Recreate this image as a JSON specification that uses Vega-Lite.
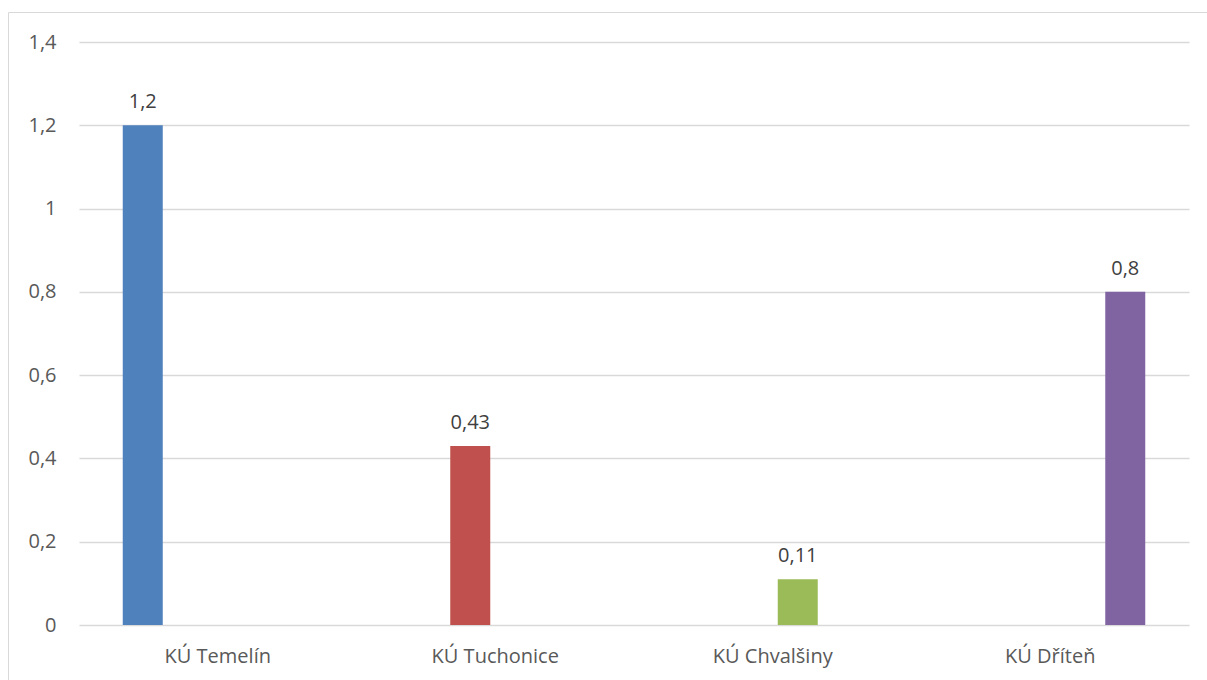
{
  "$schema": "https://vega.github.io/schema/vega-lite/v6.json",
  "autosize": {"type": "none"},
  "padding": {"left": 8, "top": 12, "right": 0, "bottom": 0},
  "width": 1202,
  "height": 670,
  "background": "#ffffff",
  "config": {
    "locale": {"number": {"decimal": ",", "thousands": " ", "grouping": [3], "currency": ["", " Kč"]}},
    "view": {"stroke": "#d9d9d9", "strokeWidth": 1},
    "font": "Open Sans"
  },
  "data": {
    "values": [
      {"area": "KÚ Temelín", "series": "s1", "value": 1.2},
      {"area": "KÚ Tuchonice", "series": "s2", "value": 0.43},
      {"area": "KÚ Chvalšiny", "series": "s3", "value": 0.11},
      {"area": "KÚ Dříteň", "series": "s4", "value": 0.8}
    ]
  },
  "encoding": {
    "x": {
      "field": "area",
      "type": "nominal",
      "sort": null,
      "scale": {"range": [71, 1181], "paddingInner": 0, "paddingOuter": 0},
      "axis": {
        "title": null,
        "orient": "bottom",
        "offset": -57,
        "domain": false,
        "ticks": false,
        "grid": false,
        "labelAngle": 0,
        "labelPadding": 21,
        "labelBaseline": "top",
        "labelFont": "Open Sans",
        "labelFontSize": 20,
        "labelColor": "#595959"
      }
    },
    "xOffset": {
      "field": "series",
      "type": "nominal",
      "sort": ["s1", "s2", "s3", "s4"],
      "scale": {"paddingInner": 0.2, "paddingOuter": 0.875}
    },
    "y": {
      "field": "value",
      "type": "quantitative",
      "scale": {"domain": [0, 1.4], "range": [613, 30], "nice": false, "zero": true},
      "axis": {
        "title": null,
        "offset": -71,
        "values": [0, 0.2, 0.4, 0.6, 0.8, 1, 1.2, 1.4],
        "format": "~g",
        "domain": false,
        "ticks": false,
        "grid": true,
        "gridColor": "#d9d9d9",
        "gridWidth": 1.3,
        "labelPadding": 23,
        "labelFont": "Open Sans",
        "labelFontSize": 20,
        "labelColor": "#595959"
      }
    }
  },
  "layer": [
    {
      "mark": {"type": "bar"},
      "encoding": {
        "color": {
          "field": "series",
          "type": "nominal",
          "scale": {"domain": ["s1", "s2", "s3", "s4"], "range": ["#4f81bd", "#c0504d", "#9bbb59", "#8064a2"]},
          "legend": null
        }
      }
    },
    {
      "mark": {"type": "text", "baseline": "alphabetic", "dy": -17, "fontSize": 20, "font": "Open Sans", "color": "#404040"},
      "encoding": {
        "text": {"field": "value", "type": "quantitative", "format": "~g"}
      }
    }
  ]
}
